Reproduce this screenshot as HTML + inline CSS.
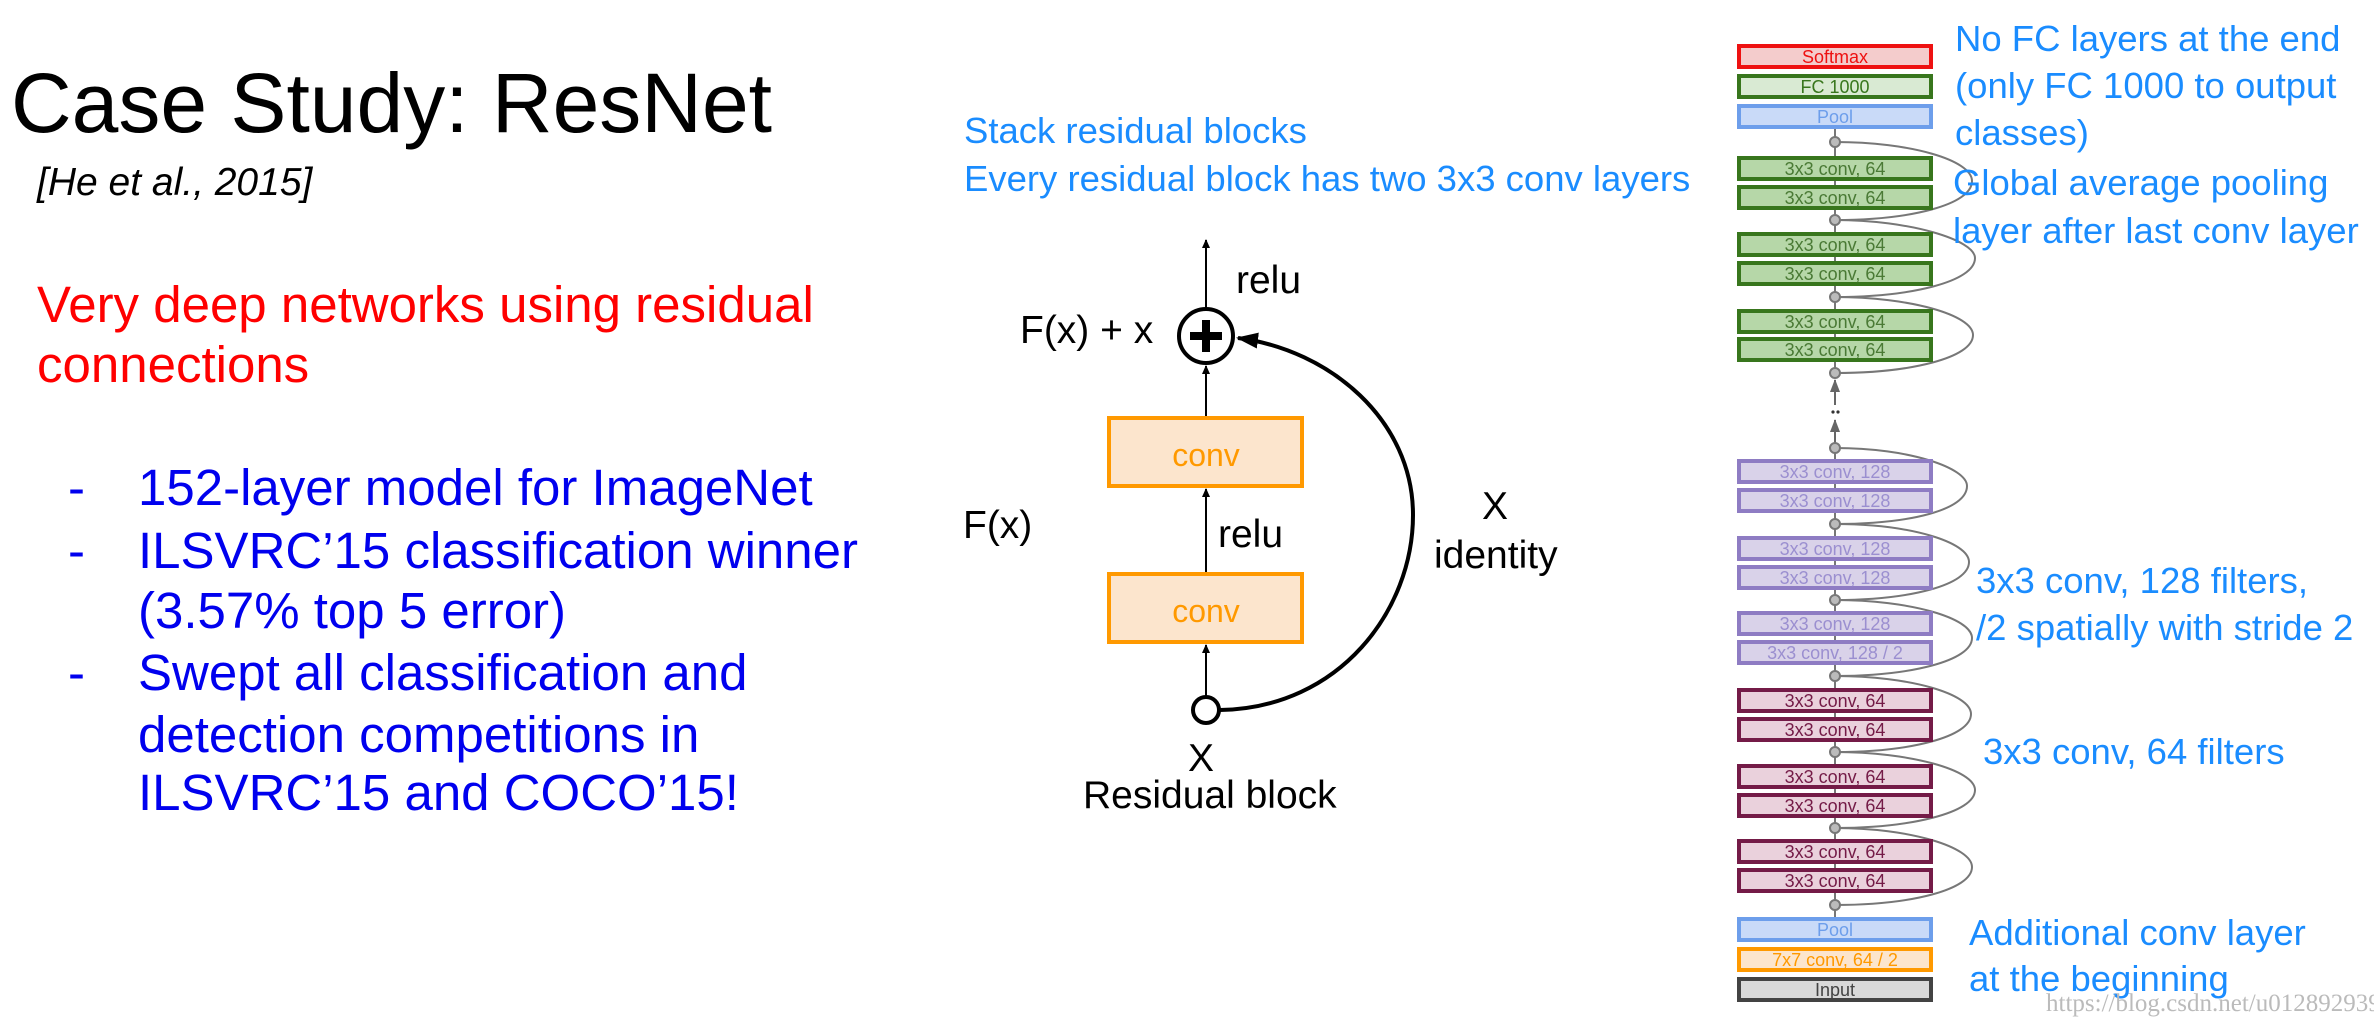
<!DOCTYPE html>
<html><head><meta charset="utf-8"><style>
html,body{margin:0;padding:0;background:#fff;}
svg{display:block;}
</style></head><body>
<svg width="2374" height="1022" viewBox="0 0 2374 1022" xmlns="http://www.w3.org/2000/svg" font-family="Liberation Sans, Arial, sans-serif">
<defs>
<marker id="ah" markerWidth="10" markerHeight="10" refX="8" refY="5" orient="auto" markerUnits="userSpaceOnUse"><path d="M0,1 L9,5 L0,9 z" fill="#000"/></marker>
<marker id="ahb" markerWidth="24" markerHeight="24" refX="20" refY="10" orient="auto" markerUnits="userSpaceOnUse"><path d="M0,2 L22,10 L0,18 z" fill="#000"/></marker>
<marker id="ahg" markerWidth="14" markerHeight="14" refX="12" refY="6" orient="auto" markerUnits="userSpaceOnUse"><path d="M0,1 L13,6 L0,11 z" fill="#666"/></marker>
</defs>

<text x="11" y="132" font-size="84" fill="#000">Case Study: ResNet</text>
<text x="37" y="195" font-size="39" font-style="italic" fill="#000">[He et al., 2015]</text>
<text x="37" y="322" font-size="51" fill="#ff0000">Very deep networks using residual</text>
<text x="37" y="382" font-size="51" fill="#ff0000">connections</text>
<g font-size="51" fill="#0000ee">
<text x="68" y="505">-</text><text x="138" y="505">152-layer model for ImageNet</text>
<text x="68" y="568">-</text><text x="138" y="568">ILSVRC’15 classification winner</text>
<text x="138" y="628">(3.57% top 5 error)</text>
<text x="68" y="690">-</text><text x="138" y="690">Swept all classification and</text>
<text x="138" y="752">detection competitions in</text>
<text x="138" y="810">ILSVRC’15 and COCO’15!</text>
</g>

<g font-size="36.5" fill="#1a8cff">
<text x="964" y="143">Stack residual blocks</text>
<text x="964" y="191">Every residual block has two 3x3 conv layers</text>
</g>
<g stroke="#000" stroke-width="2" fill="none">
<line x1="1206" y1="308" x2="1206" y2="240" marker-end="url(#ah)"/>
<line x1="1206" y1="417" x2="1206" y2="366" marker-end="url(#ah)"/>
<line x1="1206" y1="573" x2="1206" y2="489" marker-end="url(#ah)"/>
<line x1="1206" y1="696" x2="1206" y2="645" marker-end="url(#ah)"/>
<path d="M1220,710 C1340,708 1413,610 1413,515 C1413,420 1330,350 1238,338" stroke-width="4" marker-end="url(#ahb)"/>
</g>
<circle cx="1206" cy="336" r="27" fill="#fff" stroke="#000" stroke-width="4"/>
<rect x="1202" y="320" width="8" height="32" fill="#000"/>
<rect x="1190" y="332" width="32" height="8" fill="#000"/>
<circle cx="1206" cy="710" r="13" fill="#fff" stroke="#000" stroke-width="4"/>
<rect x="1109" y="418" width="193" height="68" fill="#fce5cd" stroke="#ff9900" stroke-width="4"/>
<rect x="1109" y="574" width="193" height="68" fill="#fce5cd" stroke="#ff9900" stroke-width="4"/>
<g font-size="32" fill="#ff9900" text-anchor="middle">
<text x="1206" y="466">conv</text><text x="1206" y="622">conv</text>
</g>
<g font-size="39" fill="#000">
<text x="1236" y="293">relu</text>
<text x="1020" y="343">F(x) + x</text>
<text x="1218" y="547">relu</text>
<text x="963" y="538">F(x)</text>
<text x="1495" y="519" text-anchor="middle">X</text>
<text x="1434" y="568">identity</text>
<text x="1201" y="771" text-anchor="middle">X</text>
<text x="1083" y="808">Residual block</text>
</g>

<g stroke="#777" stroke-width="2" fill="none">
<line x1="1835" y1="128" x2="1835" y2="373"/>
<line x1="1835" y1="448" x2="1835" y2="918"/>
<line x1="1835" y1="405" x2="1835" y2="380" stroke="#666" marker-end="url(#ahg)"/>
<line x1="1835" y1="443" x2="1835" y2="420" stroke="#666" marker-end="url(#ahg)"/>
<path d="M1835,142 C1910,142 1972,160 1972,181 C1972,205 1910,220 1835,220"/>
<path d="M1835,220 C1910,220 1975,240 1975,258 C1975,282 1910,297 1835,297"/>
<path d="M1835,297 C1910,297 1973,315 1973,335 C1973,358 1910,373 1835,373"/>
<path d="M1835,448 C1910,448 1967,468 1967,486 C1967,510 1910,524 1835,524"/>
<path d="M1835,524 C1910,524 1969,542 1969,562 C1969,585 1910,600 1835,600"/>
<path d="M1835,600 C1910,600 1972,618 1972,638 C1972,661 1910,676 1835,676"/>
<path d="M1835,676 C1910,676 1971,694 1971,714 C1971,737 1910,752 1835,752"/>
<path d="M1835,752 C1910,752 1975,770 1975,790 C1975,813 1910,828 1835,828"/>
<path d="M1835,828 C1910,828 1972,847 1972,867 C1972,890 1910,905 1835,905"/>
</g>
<circle cx="1833" cy="412" r="1.6" fill="#333"/><circle cx="1838" cy="412" r="1.6" fill="#333"/>
<g fill="#bbb" stroke="#777" stroke-width="2">
<circle cx="1835" cy="142" r="5"/><circle cx="1835" cy="220" r="5"/><circle cx="1835" cy="297" r="5"/><circle cx="1835" cy="373" r="5"/>
<circle cx="1835" cy="448" r="5"/><circle cx="1835" cy="524" r="5"/><circle cx="1835" cy="600" r="5"/><circle cx="1835" cy="676" r="5"/>
<circle cx="1835" cy="752" r="5"/><circle cx="1835" cy="828" r="5"/><circle cx="1835" cy="905" r="5"/>
</g>
<g stroke-width="4" font-size="18" text-anchor="middle">
<rect x="1739" y="46" width="192" height="21" fill="#f4cccc" stroke="#ee1111"/><text x="1835" y="63" fill="#ee1111" stroke="none">Softmax</text>
<rect x="1739" y="76" width="192" height="21" fill="#d9ead3" stroke="#38761d"/><text x="1835" y="93" fill="#38761d" stroke="none">FC 1000</text>
<rect x="1739" y="106" width="192" height="21" fill="#c9daf8" stroke="#6d9eeb"/><text x="1835" y="123" fill="#6d9eeb" stroke="none">Pool</text>
<g fill="#b6d7a8" stroke="#38761d">
<rect x="1739" y="158" width="192" height="21"/><rect x="1739" y="187" width="192" height="21"/>
<rect x="1739" y="234" width="192" height="21"/><rect x="1739" y="263" width="192" height="21"/>
<rect x="1739" y="311" width="192" height="21"/><rect x="1739" y="339" width="192" height="21"/>
</g>
<g fill="#4a7a35" stroke="none">
<text x="1835" y="175">3x3 conv, 64</text><text x="1835" y="204">3x3 conv, 64</text>
<text x="1835" y="251">3x3 conv, 64</text><text x="1835" y="280">3x3 conv, 64</text>
<text x="1835" y="328">3x3 conv, 64</text><text x="1835" y="356">3x3 conv, 64</text>
</g>
<g fill="#d9d2e9" stroke="#8e7cc3">
<rect x="1739" y="461" width="192" height="21"/><rect x="1739" y="490" width="192" height="21"/>
<rect x="1739" y="538" width="192" height="21"/><rect x="1739" y="567" width="192" height="21"/>
<rect x="1739" y="613" width="192" height="21"/><rect x="1739" y="642" width="192" height="21"/>
</g>
<g fill="#9b8fd0" stroke="none">
<text x="1835" y="478">3x3 conv, 128</text><text x="1835" y="507">3x3 conv, 128</text>
<text x="1835" y="555">3x3 conv, 128</text><text x="1835" y="584">3x3 conv, 128</text>
<text x="1835" y="630">3x3 conv, 128</text><text x="1835" y="659">3x3 conv, 128 / 2</text>
</g>
<g fill="#ead1dc" stroke="#741b47">
<rect x="1739" y="690" width="192" height="21"/><rect x="1739" y="719" width="192" height="21"/>
<rect x="1739" y="766" width="192" height="21"/><rect x="1739" y="795" width="192" height="21"/>
<rect x="1739" y="841" width="192" height="21"/><rect x="1739" y="870" width="192" height="21"/>
</g>
<g fill="#741b47" stroke="none">
<text x="1835" y="707">3x3 conv, 64</text><text x="1835" y="736">3x3 conv, 64</text>
<text x="1835" y="783">3x3 conv, 64</text><text x="1835" y="812">3x3 conv, 64</text>
<text x="1835" y="858">3x3 conv, 64</text><text x="1835" y="887">3x3 conv, 64</text>
</g>
<rect x="1739" y="919" width="192" height="21" fill="#c9daf8" stroke="#6d9eeb"/><text x="1835" y="936" fill="#6d9eeb" stroke="none">Pool</text>
<rect x="1739" y="949" width="192" height="21" fill="#fce5cd" stroke="#ff9900"/><text x="1835" y="966" fill="#ff9900" stroke="none">7x7 conv, 64 / 2</text>
<rect x="1739" y="979" width="192" height="21" fill="#d9d9d9" stroke="#434343"/><text x="1835" y="996" fill="#434343" stroke="none">Input</text>
</g>

<g font-size="36.5" fill="#1a8cff">
<text x="1955" y="51">No FC layers at the end</text>
<text x="1955" y="98">(only FC 1000 to output</text>
<text x="1955" y="145">classes)</text>
<text x="1953" y="195">Global average pooling</text>
<text x="1953" y="243">layer after last conv layer</text>
<text x="1976" y="593">3x3 conv, 128 filters,</text>
<text x="1976" y="640">/2 spatially with stride 2</text>
<text x="1983" y="764">3x3 conv, 64 filters</text>
<text x="1969" y="945">Additional conv layer</text>
<text x="1969" y="991">at the beginning</text>
</g>
<text x="2046" y="1011" font-size="25" fill="#bbbbbb" font-family="Liberation Serif, serif">https://blog.csdn.net/u012892939</text>
</svg>
</body></html>
